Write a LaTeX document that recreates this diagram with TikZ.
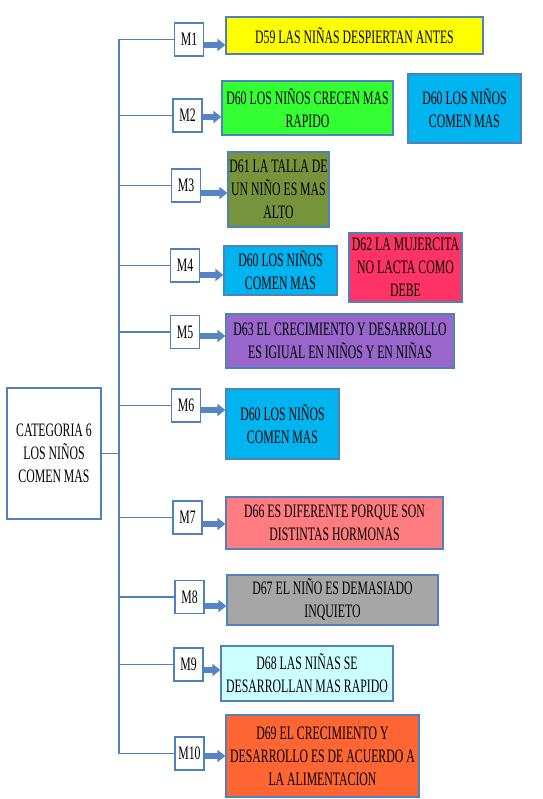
\documentclass[tikz,border=0pt]{standalone}
\usepackage{fontspec}
\setmainfont{Liberation Serif}[FakeStretch=0.62]
\usetikzlibrary{arrows.meta}

\definecolor{lineblue}{HTML}{4F81BD}
\definecolor{arrowblue}{HTML}{5585C5}
\definecolor{amarillo}{HTML}{FFFF00}
\definecolor{verde}{HTML}{33FF33}
\definecolor{celeste}{HTML}{00B4F0}
\definecolor{oliva}{HTML}{77933C}
\definecolor{rosa}{HTML}{FF3366}
\definecolor{morado}{HTML}{9966CC}
\definecolor{salmon}{HTML}{FF7C80}
\definecolor{gris}{HTML}{A6A6A6}
\definecolor{celestec}{HTML}{CCFFFF}
\definecolor{naranja}{HTML}{FF6633}

\begin{document}
\begin{tikzpicture}[x=1pt,y=-1pt,
	every node/.style={font=\fontsize{19}{23}\selectfont,align=center,inner sep=0pt},
	mbox/.style={draw=lineblue,line width=1.2pt,fill=white,minimum width=29pt,minimum height=33pt},
	dbox/.style={draw=lineblue,line width=1.2pt},
	branch/.style={draw=lineblue,line width=1.3pt},
	flecha/.style={draw=arrowblue,line width=5.5pt,-{Triangle[length=8pt,width=12pt]}}]

\useasboundingbox (0,0) rectangle (542,799);

\coordinate (trunk) at (119,0);

\node[dbox,fill=white,minimum width=94pt,minimum height=131pt]   (cat)   at (54,453.5)  {CATEGORIA 6\\LOS NIÑOS\\COMEN MAS};

	\node[mbox] (m1)  at (189,39.5)  {M1};
	\node[mbox] (m2)  at (187.5,115.5) {M2};
	\node[mbox] (m3)  at (186,185.5) {M3};
	\node[mbox] (m4)  at (185,265.5) {M4};
	\node[mbox] (m5)  at (185,332)   {M5};
	\node[mbox] (m6)  at (186,405.5) {M6};
	\node[mbox] (m7)  at (187.5,517.5) {M7};
	\node[mbox] (m8)  at (189.5,597) {M8};
	\node[mbox] (m9)  at (188.5,664.5) {M9};
	\node[mbox] (m10) at (189.5,753.5) {M10};

\node[dbox,fill=amarillo,minimum width=257pt,minimum height=37pt] (d59)  at (354.5,35.5) {D59 LAS NIÑAS DESPIERTAN ANTES};
\node[dbox,fill=verde,minimum width=171pt,minimum height=54pt]    (d60a) at (307.5,108)  {D60 LOS NIÑOS CRECEN MAS\\RAPIDO};
\node[dbox,fill=celeste,minimum width=113pt,minimum height=69pt]  (d60b) at (464.5,108.5) {D60 LOS NIÑOS\\COMEN MAS};
\node[dbox,fill=oliva,minimum width=101pt,minimum height=75pt]    (d61)  at (278.5,189.5) {D61 LA TALLA DE\\UN NIÑO ES MAS\\ALTO};
\node[dbox,fill=celeste,minimum width=113pt,minimum height=49pt]  (d60c) at (280.5,270.5) {D60 LOS NIÑOS\\COMEN MAS};
\node[dbox,fill=rosa,minimum width=113pt,minimum height=69pt]     (d62)  at (405.5,267.5) {D62 LA MUJERCITA\\NO LACTA COMO\\DEBE};
\node[dbox,fill=morado,minimum width=228pt,minimum height=54pt]   (d63)  at (340,341)    {D63 EL CRECIMIENTO Y DESARROLLO\\ES IGIUAL EN NIÑOS Y EN NIÑAS};
\node[dbox,fill=celeste,minimum width=113pt,minimum height=70pt]  (d60d) at (282.5,424)  {D60 LOS NIÑOS\\COMEN MAS};
\node[dbox,fill=salmon,minimum width=217pt,minimum height=52pt]   (d66)  at (334.5,523)  {D66 ES DIFERENTE PORQUE SON\\DISTINTAS HORMONAS};
\node[dbox,fill=gris,minimum width=211pt,minimum height=50pt]     (d67)  at (332.5,600)  {D67 EL NIÑO ES DEMASIADO\\INQUIETO};
\node[dbox,fill=celestec,minimum width=172pt,minimum height=55pt] (d68)  at (307,673.5)  {D68 LAS NIÑAS SE\\DESARROLLAN MAS RAPIDO};
\node[dbox,fill=naranja,minimum width=193pt,minimum height=82pt]  (d69)  at (322.5,756)  {D69 EL CRECIMIENTO Y\\DESARROLLO ES DE ACUERDO A\\LA ALIMENTACION};

	% tronco y ramas
	\draw[branch] (m1.west -| trunk) -- (m10.west -| trunk);
	\draw[branch] (cat.east) -- (cat.east -| trunk);
	\path[branch] (m1.west -| trunk) edge (m1.west)
					(m2.west -| trunk) edge (m2.west)
					(m3.west -| trunk) edge (m3.west)
					(m4.west -| trunk) edge (m4.west)
					(m5.west -| trunk) edge (m5.west)
					(m6.west -| trunk) edge (m6.west)
					(m7.west -| trunk) edge (m7.west)
					(m8.west -| trunk) edge (m8.west)
					(m9.west -| trunk) edge (m9.west)
					(m10.west -| trunk) edge (m10.west);

	% flechas
	\draw[flecha] ([yshift=-5.5pt]m1.east) -- ([yshift=-5.5pt]m1.east -| d59.west);
	\draw[flecha] ([yshift=-1.5pt]m2.east) -- ([yshift=-1.5pt]m2.east -| d60a.west);
	\draw[flecha] ([yshift=-7.5pt]m3.east) -- ([yshift=-7.5pt]m3.east -| d61.west);
	\draw[flecha] ([yshift=-9.5pt]m4.east) -- ([yshift=-9.5pt]m4.east -| d60c.west);
	\draw[flecha] ([yshift=-4pt]m5.east) -- ([yshift=-4pt]m5.east -| d63.west);
	\draw[flecha] ([yshift=-4.5pt]m6.east) -- ([yshift=-4.5pt]m6.east -| d60d.west);
	\draw[flecha] ([yshift=-6.5pt]m7.east) -- ([yshift=-6.5pt]m7.east -| d66.west);
	\draw[flecha] ([yshift=-9pt]m8.east) -- ([yshift=-9pt]m8.east -| d67.west);
	\draw[flecha] ([yshift=-5.5pt]m9.east) -- ([yshift=-5.5pt]m9.east -| d68.west);
	\draw[flecha] ([yshift=-2.5pt]m10.east) -- ([yshift=-2.5pt]m10.east -| d69.west);

\end{tikzpicture}
\end{document}
